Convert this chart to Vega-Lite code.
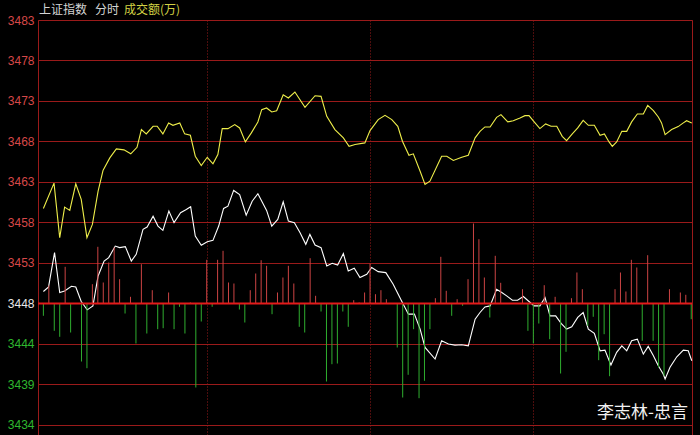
{
  "$schema": "https://vega.github.io/schema/vega-lite/v6.json",
  "width": 654,
  "height": 415,
  "autosize": {"type": "none"},
  "padding": {"left": 38, "top": 20, "right": 8, "bottom": 0},
  "background": "#000000",
  "config": {"view": {"stroke": "#9a1a1a", "strokeWidth": 1}, "font": "Liberation Sans"},
  "datasets": {
    "bars": [
      {"t":0,"vol":-12.3},{"t":2,"vol":18},{"t":4,"vol":-27.3},{"t":6,"vol":-33.3},{"t":8,"vol":36.7},{"t":10,"vol":-29},
      {"t":14,"vol":-58},{"t":16,"vol":-64.7},{"t":18,"vol":19.3},{"t":20,"vol":56.7},{"t":22,"vol":21},{"t":24,"vol":41},
      {"t":26,"vol":56},{"t":28,"vol":24.3},{"t":30,"vol":-10},{"t":32,"vol":6.7},{"t":34,"vol":-40},{"t":36,"vol":39.3},
      {"t":38,"vol":-30},{"t":40,"vol":13.3},{"t":42,"vol":-25.7},{"t":44,"vol":-24.7},{"t":46,"vol":11},{"t":48,"vol":-25.7},
      {"t":50,"vol":-3.3},{"t":52,"vol":-30},{"t":54,"vol":1},{"t":56,"vol":-84},{"t":58,"vol":-18},{"t":60,"vol":43.7},
      {"t":62,"vol":-3.3},{"t":64,"vol":43.7},{"t":66,"vol":52.7},{"t":68,"vol":21},{"t":70,"vol":20},{"t":72,"vol":-6},
      {"t":74,"vol":-19},{"t":76,"vol":13.3},{"t":78,"vol":30},{"t":80,"vol":43.3},{"t":82,"vol":37.7},{"t":84,"vol":-10.7},
      {"t":86,"vol":11},{"t":88,"vol":26},{"t":90,"vol":37.7},{"t":92,"vol":20},{"t":94,"vol":-23.3},{"t":96,"vol":-29},
      {"t":98,"vol":45.3},{"t":100,"vol":7.7},{"t":102,"vol":-8},{"t":104,"vol":-78},{"t":106,"vol":-60.7},{"t":108,"vol":-60},
      {"t":110,"vol":-8},{"t":112,"vol":-23.3},{"t":114,"vol":3.3},{"t":116,"vol":1},{"t":118,"vol":11},{"t":120,"vol":40},
      {"t":122,"vol":9.3},{"t":124,"vol":13.3},{"t":126,"vol":4.3},{"t":130,"vol":-44},{"t":132,"vol":-94},{"t":134,"vol":-71.3},
      {"t":136,"vol":-25.7},{"t":138,"vol":-94.7},{"t":140,"vol":-77.3},{"t":142,"vol":-25.7},{"t":144,"vol":5.3},{"t":146,"vol":46.7},
      {"t":148,"vol":12.7},{"t":150,"vol":-12.3},{"t":152,"vol":4.3},{"t":154,"vol":-2.3},{"t":156,"vol":24.3},{"t":158,"vol":80},
      {"t":160,"vol":64.3},{"t":162,"vol":26},{"t":164,"vol":-14},{"t":166,"vol":47.7},{"t":168,"vol":20.7},{"t":176,"vol":14.3},
      {"t":178,"vol":-27.3},{"t":180,"vol":-40},{"t":182,"vol":-20},{"t":184,"vol":18.3},{"t":186,"vol":-35.7},{"t":188,"vol":6.7},
      {"t":190,"vol":-70},{"t":192,"vol":-48.3},{"t":194,"vol":5.3},{"t":196,"vol":31},{"t":198,"vol":14.3},{"t":200,"vol":-22.3},
      {"t":202,"vol":-13.3},{"t":204,"vol":-56.7},{"t":206,"vol":-30.7},{"t":208,"vol":-72.7},{"t":210,"vol":14.3},{"t":212,"vol":31},
      {"t":214,"vol":12},{"t":216,"vol":43.7},{"t":218,"vol":36},{"t":220,"vol":-37.3},{"t":222,"vol":48.3},{"t":224,"vol":-37.3},
      {"t":226,"vol":-64},{"t":228,"vol":-72.3},{"t":230,"vol":14.3},{"t":234,"vol":11},{"t":236,"vol":8.7},{"t":238,"vol":-15.7}
    ],
    "lines": [
      {"s":"成交额","t":0,"v":3459.95},{"s":"成交额","t":3.9,"v":3463.01},{"s":"成交额","t":6,"v":3456.42},{"s":"成交额","t":7.8,"v":3460.11},
      {"s":"成交额","t":9.7,"v":3459.71},{"s":"成交额","t":11.9,"v":3462.93},{"s":"成交额","t":13.9,"v":3461.04},{"s":"成交额","t":16,"v":3456.42},
      {"s":"成交额","t":18,"v":3458.02},{"s":"成交额","t":20.1,"v":3462.04},{"s":"成交额","t":21.9,"v":3464.54},{"s":"成交额","t":24.4,"v":3466.07},
      {"s":"成交额","t":26.8,"v":3467.16},{"s":"成交额","t":29.6,"v":3467.04},{"s":"成交额","t":32.1,"v":3466.56},{"s":"成交额","t":34.4,"v":3467.35},
      {"s":"成交额","t":36,"v":3469.49},{"s":"成交额","t":37.8,"v":3468.97},{"s":"成交额","t":40.3,"v":3469.89},{"s":"成交额","t":41.8,"v":3469.89},
      {"s":"成交额","t":43.9,"v":3468.97},{"s":"成交额","t":46,"v":3470.30},{"s":"成交额","t":47.6,"v":3470.01},{"s":"成交额","t":50.1,"v":3470.30},
      {"s":"成交额","t":51.9,"v":3468.97},{"s":"成交额","t":54,"v":3468.80},{"s":"成交额","t":55.8,"v":3466.27},{"s":"成交额","t":58,"v":3465.14},
      {"s":"成交额","t":60.2,"v":3466.14},{"s":"成交额","t":62.3,"v":3465.35},{"s":"成交额","t":64.1,"v":3466.47},{"s":"成交额","t":65.7,"v":3469.61},
      {"s":"成交额","t":67.8,"v":3469.61},{"s":"成交额","t":70.3,"v":3470.09},{"s":"成交额","t":72.1,"v":3469.69},{"s":"成交额","t":74.2,"v":3468.00},
      {"s":"成交额","t":76.4,"v":3469.09},{"s":"成交额","t":78.8,"v":3470.42},{"s":"成交额","t":80.2,"v":3471.90},{"s":"成交额","t":82,"v":3472.11},
      {"s":"成交额","t":83.9,"v":3471.62},{"s":"成交额","t":85.7,"v":3471.78},{"s":"成交额","t":88.1,"v":3473.71},{"s":"成交额","t":90,"v":3473.31},
      {"s":"成交额","t":92.4,"v":3474.04},{"s":"成交额","t":96.1,"v":3472.18},{"s":"成交额","t":99.8,"v":3473.59},{"s":"成交额","t":102,"v":3473.51},
      {"s":"成交额","t":104.1,"v":3471.09},{"s":"成交额","t":107.1,"v":3469.49},{"s":"成交额","t":110.2,"v":3468.49},{"s":"成交额","t":112.3,"v":3467.47},
      {"s":"成交额","t":114.5,"v":3467.68},{"s":"成交额","t":118.1,"v":3467.88},{"s":"成交额","t":120,"v":3469.37},{"s":"成交额","t":123,"v":3470.70},
      {"s":"成交额","t":125.5,"v":3471.21},{"s":"成交额","t":128,"v":3470.70},{"s":"成交额","t":130.2,"v":3469.89},{"s":"成交额","t":131.9,"v":3468.08},
      {"s":"成交额","t":134.3,"v":3466.39},{"s":"成交额","t":135.9,"v":3466.56},{"s":"成交额","t":138.4,"v":3464.45},{"s":"成交额","t":140.2,"v":3462.85},
      {"s":"成交额","t":142,"v":3463.25},{"s":"成交额","t":146.3,"v":3466.27},{"s":"成交额","t":148.2,"v":3466.27},{"s":"成交额","t":150.6,"v":3465.75},
      {"s":"成交额","t":153.7,"v":3466.14},{"s":"成交额","t":156.1,"v":3466.39},{"s":"成交额","t":158.6,"v":3468.49},{"s":"成交额","t":160.4,"v":3469.28},
      {"s":"成交额","t":162.2,"v":3469.81},{"s":"成交额","t":164.1,"v":3469.81},{"s":"成交额","t":166.5,"v":3470.97},{"s":"成交额","t":168.1,"v":3471.30},
      {"s":"成交额","t":170.6,"v":3470.42},{"s":"成交额","t":172.6,"v":3470.57},{"s":"成交额","t":175.1,"v":3470.90},{"s":"成交额","t":176.9,"v":3471.18},
      {"s":"成交额","t":178.4,"v":3471.18},{"s":"成交额","t":180.3,"v":3470.42},{"s":"成交额","t":182.4,"v":3469.61},{"s":"成交额","t":184.5,"v":3470.18},
      {"s":"成交额","t":186.5,"v":3469.89},{"s":"成交额","t":188.6,"v":3469.89},{"s":"成交额","t":190.6,"v":3468.68},{"s":"成交额","t":192.2,"v":3468.16},
      {"s":"成交额","t":194.3,"v":3468.97},{"s":"成交额","t":196.3,"v":3469.69},{"s":"成交额","t":198.3,"v":3470.61},{"s":"成交额","t":200.2,"v":3470.01},
      {"s":"成交额","t":202.4,"v":3470.01},{"s":"成交额","t":204.5,"v":3468.80},{"s":"成交额","t":206.1,"v":3468.97},{"s":"成交额","t":207.8,"v":3468.00},
      {"s":"成交额","t":209,"v":3467.47},{"s":"成交额","t":210.6,"v":3468.00},{"s":"成交额","t":212.5,"v":3469.28},{"s":"成交额","t":214.3,"v":3469.28},
      {"s":"成交额","t":216.1,"v":3470.42},{"s":"成交额","t":218.2,"v":3471.38},{"s":"成交额","t":220.4,"v":3471.38},{"s":"成交额","t":222,"v":3472.42},
      {"s":"成交额","t":224.1,"v":3471.78},{"s":"成交额","t":225.9,"v":3471.02},{"s":"成交额","t":227.1,"v":3470.30},{"s":"成交额","t":228.4,"v":3468.88},
      {"s":"成交额","t":230.8,"v":3469.49},{"s":"成交额","t":233.2,"v":3469.85},{"s":"成交额","t":235.1,"v":3470.30},{"s":"成交额","t":236.3,"v":3470.57},
      {"s":"成交额","t":238.2,"v":3470.30},
      {"s":"上证指数","t":0,"v":3449.90},{"s":"上证指数","t":1.9,"v":3450.45},{"s":"上证指数","t":4.1,"v":3454.61},{"s":"上证指数","t":6,"v":3449.78},
      {"s":"上证指数","t":7.8,"v":3449.97},{"s":"上证指数","t":10.3,"v":3450.54},{"s":"上证指数","t":11.9,"v":3450.45},{"s":"上证指数","t":13.9,"v":3448.69},
      {"s":"上证指数","t":16.1,"v":3447.68},{"s":"上证指数","t":18.2,"v":3448.16},{"s":"上证指数","t":20.1,"v":3451.78},{"s":"上证指数","t":22.3,"v":3453.59},
      {"s":"上证指数","t":24,"v":3454.00},{"s":"上证指数","t":26.4,"v":3455.40},{"s":"上证指数","t":28,"v":3455.21},{"s":"上证指数","t":30.1,"v":3455.33},
      {"s":"上证指数","t":32.3,"v":3453.59},{"s":"上证指数","t":34.1,"v":3454.40},{"s":"上证指数","t":36.6,"v":3457.42},{"s":"上证指数","t":38.1,"v":3457.70},
      {"s":"上证指数","t":40.3,"v":3459.02},{"s":"上证指数","t":42.1,"v":3457.82},{"s":"上证指数","t":43.9,"v":3457.30},{"s":"上证指数","t":46.1,"v":3459.63},
      {"s":"上证指数","t":48,"v":3458.23},{"s":"上证指数","t":50.4,"v":3459.43},{"s":"上证指数","t":52.5,"v":3459.83},{"s":"上证指数","t":54.1,"v":3460.16},
      {"s":"上证指数","t":55.8,"v":3456.61},{"s":"上证指数","t":58,"v":3455.49},{"s":"上证指数","t":60.2,"v":3455.93},{"s":"上证指数","t":62.3,"v":3456.09},
      {"s":"上证指数","t":64.4,"v":3457.82},{"s":"上证指数","t":66.2,"v":3459.95},{"s":"上证指数","t":67.8,"v":3460.23},{"s":"上证指数","t":69.9,"v":3462.13},
      {"s":"上证指数","t":72.1,"v":3461.64},{"s":"上证指数","t":74.5,"v":3459.14},{"s":"上证指数","t":76.7,"v":3460.83},{"s":"上证指数","t":78.8,"v":3461.73},
      {"s":"上证指数","t":82,"v":3459.71},{"s":"上证指数","t":83.9,"v":3457.82},{"s":"上证指数","t":86.1,"v":3458.63},{"s":"上证指数","t":88.1,"v":3460.76},
      {"s":"上证指数","t":90,"v":3458.42},{"s":"上证指数","t":92.2,"v":3458.23},{"s":"上证指数","t":94.3,"v":3457.02},{"s":"上证指数","t":96.4,"v":3455.61},
      {"s":"上证指数","t":97.9,"v":3456.81},{"s":"上证指数","t":99.8,"v":3455.52},{"s":"上证指数","t":102,"v":3455.21},{"s":"上证指数","t":104.1,"v":3452.99},
      {"s":"上证指数","t":106.1,"v":3453.31},{"s":"上证指数","t":108.1,"v":3453.11},{"s":"上证指数","t":110.2,"v":3454.49},{"s":"上证指数","t":112,"v":3452.38},
      {"s":"上证指数","t":114.2,"v":3452.71},{"s":"上证指数","t":116.3,"v":3451.59},{"s":"上证指数","t":118.8,"v":3451.99},{"s":"上证指数","t":120.6,"v":3452.80},
      {"s":"上证指数","t":123,"v":3452.31},{"s":"上证指数","t":125.8,"v":3452.19},{"s":"上证指数","t":128.5,"v":3450.78},{"s":"上证指数","t":131.6,"v":3448.76},
      {"s":"上证指数","t":134.1,"v":3447.16},{"s":"上证指数","t":136.3,"v":3447.16},{"s":"上证指数","t":138.4,"v":3445.35},{"s":"上证指数","t":140.2,"v":3443.14},
      {"s":"上证指数","t":143.9,"v":3441.73},{"s":"上证指数","t":146.3,"v":3443.94},{"s":"上证指数","t":148.8,"v":3443.54},{"s":"上证指数","t":151.2,"v":3443.42},
      {"s":"上证指数","t":153.7,"v":3443.46},{"s":"上证指数","t":156.1,"v":3443.33},{"s":"上证指数","t":158.6,"v":3446.56},{"s":"上证指数","t":160.4,"v":3447.36},
      {"s":"上证指数","t":162.2,"v":3448.04},{"s":"上证指数","t":164.1,"v":3448.16},{"s":"上证指数","t":166.5,"v":3450.18},{"s":"上证指数","t":168.4,"v":3449.78},
      {"s":"上证指数","t":170.2,"v":3449.37},{"s":"上证指数","t":172.3,"v":3448.85},{"s":"上证指数","t":174.2,"v":3448.85},{"s":"上证指数","t":176.3,"v":3449.29},
      {"s":"上证指数","t":178.4,"v":3448.69},{"s":"上证指数","t":180.3,"v":3448.16},{"s":"上证指数","t":182.4,"v":3448.16},{"s":"上证指数","t":184.3,"v":3449.17},
      {"s":"上证指数","t":186.1,"v":3446.95},{"s":"上证指数","t":188.2,"v":3446.95},{"s":"上证指数","t":190.2,"v":3446.04},{"s":"上证指数","t":192.2,"v":3445.35},
      {"s":"上证指数","t":194.1,"v":3445.63},{"s":"上证指数","t":196.3,"v":3446.76},{"s":"上证指数","t":198.3,"v":3447.36},{"s":"上证指数","t":200.2,"v":3445.35},
      {"s":"上证指数","t":202.4,"v":3444.83},{"s":"上证指数","t":204.5,"v":3442.73},{"s":"上证指数","t":206.3,"v":3442.81},{"s":"上证指数","t":208.5,"v":3441.00},
      {"s":"上证指数","t":210.6,"v":3442.54},{"s":"上证指数","t":212.5,"v":3443.33},{"s":"上证指数","t":214.3,"v":3442.73},{"s":"上证指数","t":216.1,"v":3443.94},
      {"s":"上证指数","t":218.2,"v":3444.14},{"s":"上证指数","t":220.4,"v":3442.33},{"s":"上证指数","t":222.2,"v":3443.26},{"s":"上证指数","t":224.1,"v":3442.13},
      {"s":"上证指数","t":225.9,"v":3440.92},{"s":"上证指数","t":227.7,"v":3439.92},{"s":"上证指数","t":228.4,"v":3439.31},{"s":"上证指数","t":230.2,"v":3440.73},
      {"s":"上证指数","t":232.7,"v":3442.00},{"s":"上证指数","t":235.1,"v":3442.81},{"s":"上证指数","t":236.9,"v":3442.73},{"s":"上证指数","t":238.2,"v":3441.52}
    ]
  },
  "layer": [
    {
      "data": {"name": "lines"},
      "mark": {"type": "line", "strokeWidth": 1.1},
      "encoding": {
        "x": {
          "field": "t", "type": "quantitative",
          "scale": {"domain": [-1.98, 238.28], "nice": false, "zero": false},
          "axis": {"values": [60, 120, 180], "grid": true, "gridColor": "#9a1a1a", "gridDash": [1, 2], "gridWidth": 1, "labels": false, "ticks": false, "domain": false, "title": null}
        },
        "y": {
          "field": "v", "type": "quantitative",
          "scale": {"domain": [3432.54, 3482.75], "nice": false, "zero": false},
          "axis": {
            "orient": "left",
            "values": [3433.75, 3438.65, 3443.55, 3448.45, 3453.35, 3458.25, 3463.15, 3468.05, 3472.95, 3477.85, 3482.75],
            "grid": true, "gridColor": "#9a1a1a", "gridWidth": 1.2, "domain": false, "ticks": false,
            "labelPadding": 4, "labelFontSize": 12, "labelFont": "Liberation Sans", "title": null,
            "labelExpr": "format(datum.value, '.0f')",
            "labelColor": {"condition": [
              {"test": "datum.value > 3449", "value": "#d64848"},
              {"test": "datum.value > 3447", "value": "#e8e8e8"}
            ], "value": "#2fb82f"}
          }
        },
        "color": {"field": "s", "type": "nominal", "scale": {"domain": ["成交额", "上证指数"], "range": ["#eeee4a", "#ffffff"]}, "legend": null},
        "order": {"field": "t", "type": "quantitative"}
      }
    },
    {
      "data": {"name": "bars"},
      "mark": {"type": "rule", "strokeWidth": 1},
      "encoding": {
        "x": {"field": "t", "type": "quantitative"},
        "y": {"field": "vol", "type": "quantitative", "scale": {"domain": [-131.5, 283.5], "nice": false, "zero": false}, "axis": null},
        "y2": {"datum": 0},
        "color": {"condition": {"test": "datum.vol > 0", "value": "#cc4444"}, "value": "#2fae2f"}
      }
    },
    {
      "data": {"values": [{"lvl": 3448.45}]},
      "mark": {"type": "rule", "color": "#e41a1a", "strokeWidth": 2},
      "encoding": {"y": {"field": "lvl", "type": "quantitative", "scale": {"domain": [3432.54, 3482.75], "nice": false, "zero": false}, "axis": null}}
    },
    {
      "data": {"values": [
        {"label": "上证指数", "t": -1.6, "lvl": 3482.75, "kind": "a"},
        {"label": "分时", "t": 19, "lvl": 3482.75, "kind": "a"},
        {"label": "成交额(万)", "t": 29.6, "lvl": 3482.75, "kind": "b"}
      ]},
      "mark": {"type": "text", "align": "left", "baseline": "middle", "dy": -10, "fontSize": 12, "font": "Noto Sans CJK SC"},
      "encoding": {
        "x": {"field": "t", "type": "quantitative"},
        "y": {"field": "lvl", "type": "quantitative", "scale": {"domain": [3432.54, 3482.75], "nice": false, "zero": false}, "axis": null},
        "text": {"field": "label"},
        "color": {"condition": {"test": "datum.kind == 'b'", "value": "#d2d244"}, "value": "#d4d4d4"}
      }
    },
    {
      "data": {"values": [{"label": "李志林-忠言", "t": 236.8, "lvl": 3435.2}]},
      "mark": {"type": "text", "align": "right", "baseline": "middle", "fontSize": 17, "font": "Noto Sans CJK SC", "fill": "#f2f2f2"},
      "encoding": {
        "x": {"field": "t", "type": "quantitative"},
        "y": {"field": "lvl", "type": "quantitative", "scale": {"domain": [3432.54, 3482.75], "nice": false, "zero": false}, "axis": null},
        "text": {"field": "label"}
      }
    }
  ],
  "resolve": {"scale": {"y": "independent"}}
}
